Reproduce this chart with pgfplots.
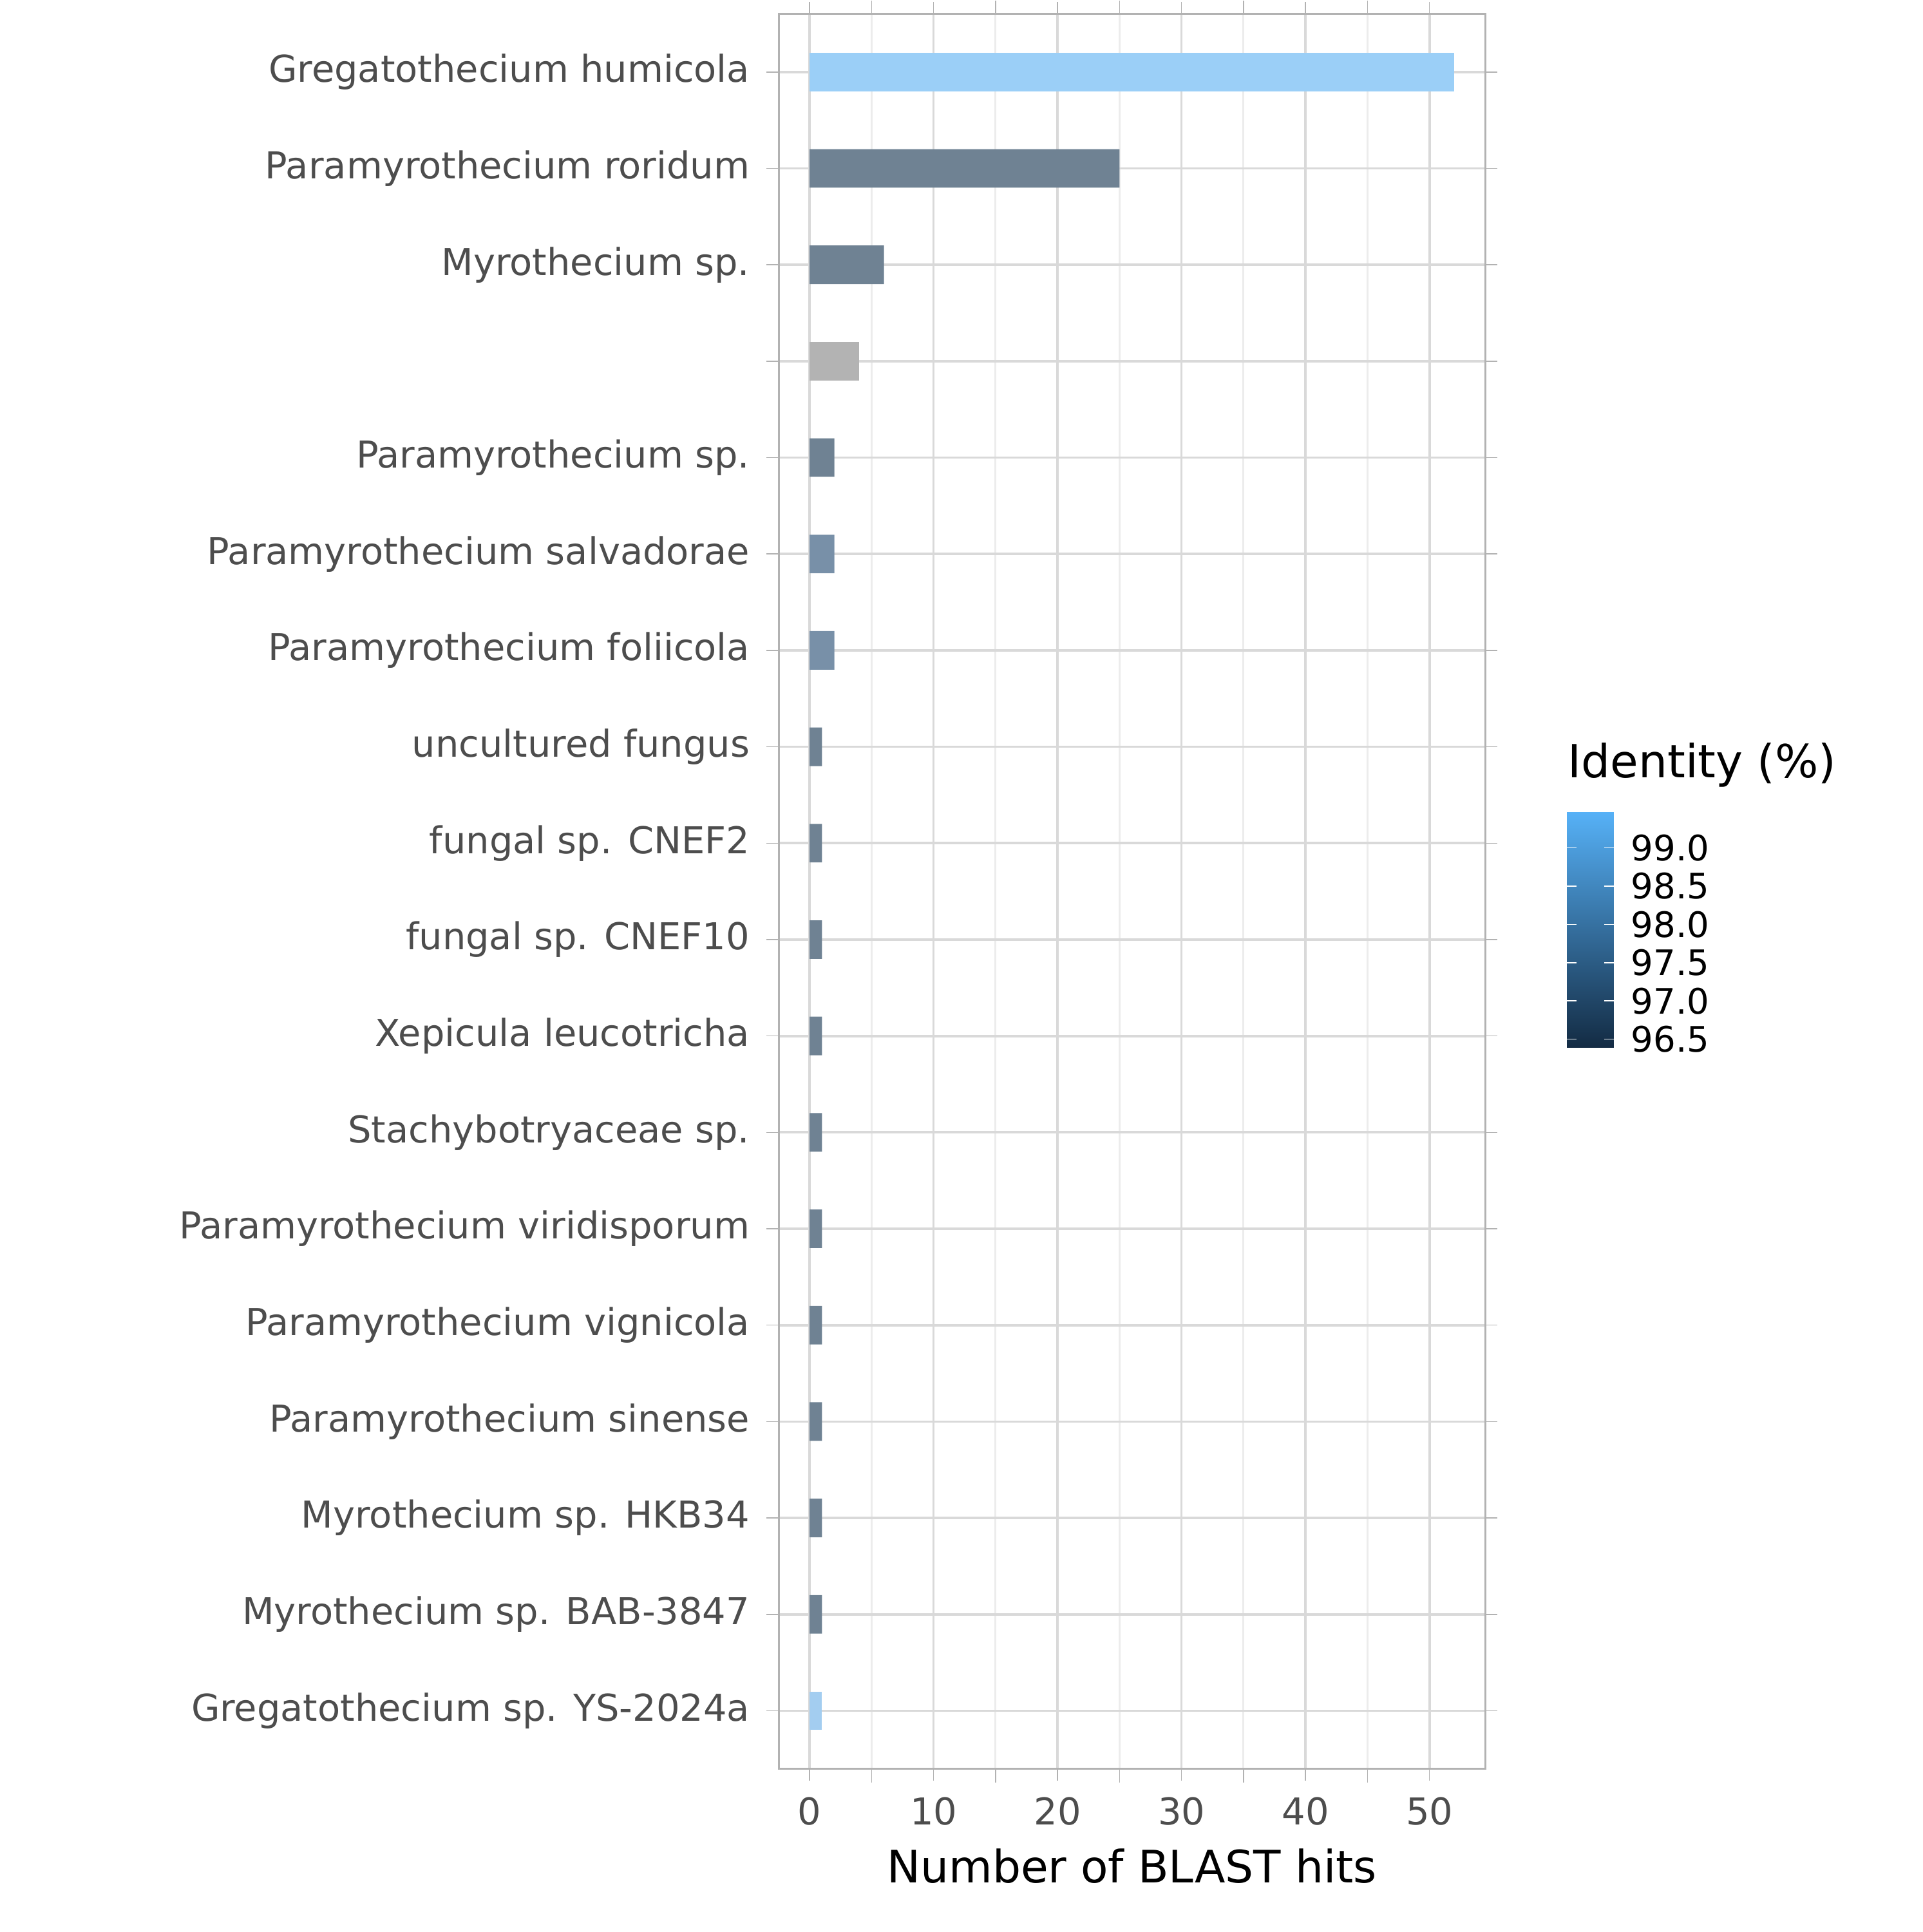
\documentclass[border=0pt]{standalone}
\usepackage{pgfplots}
\pgfplotsset{compat=1.18}
\usepackage{fontspec}
\setmainfont{DejaVu Sans}
\definecolor{lb}{HTML}{9BCFF7}
\definecolor{lb2}{HTML}{A3CDF0}
\definecolor{dk}{HTML}{6F8293}
\definecolor{bl}{HTML}{7890A8}
\definecolor{gr}{HTML}{B3B3B3}
\definecolor{txt}{HTML}{4D4D4D}
\definecolor{cblo}{HTML}{132B43}
\definecolor{cbhi}{HTML}{56B1F7}
\begin{document}
\begin{tikzpicture}
\path (-162pt,-34pt) rectangle (238pt,366pt);
\begin{axis}[at={(0,0)},anchor=south west,width=147pt,height=365pt,scale only axis,
 xmin=-2.49,xmax=54.5,ymin=-0.6,ymax=17.6,y dir=reverse,
 xbar,bar width=0.4,bar shift=0pt,
 ytick={0,...,17},
 yticklabels={Gregatothecium humicola,Paramyrothecium roridum,Myrothecium sp.,,Paramyrothecium sp.,Paramyrothecium salvadorae,Paramyrothecium foliicola,uncultured fungus,fungal sp. CNEF2,fungal sp. CNEF10,Xepicula leucotricha,Stachybotryaceae sp.,Paramyrothecium viridisporum,Paramyrothecium vignicola,Paramyrothecium sinense,Myrothecium sp. HKB34,Myrothecium sp. BAB-3847,Gregatothecium sp. YS-2024a},
 xtick={0,10,...,50},minor xtick={5,15,...,45},
 grid=both,major grid style={gray!30,line width=0.5pt},minor grid style={gray!15,line width=0.4pt},
 axis line style={gray!60},tick style={gray!60},tick align=outside,major tick length=2.5pt,
 ticklabel style={font=\fontsize{7.7}{8}\selectfont,text=txt},
 xlabel={Number of BLAST hits},xlabel style={font=\fontsize{9.3}{10}\selectfont,yshift=2pt},
 /pgf/number format/assume math mode=true]
\addplot[fill=lb,draw=none] coordinates {(52,0)};
\addplot[fill=dk,draw=none] coordinates {(25,1) (6,2) (2,4) (1,7) (1,8) (1,9) (1,10) (1,11) (1,12) (1,13) (1,14) (1,15) (1,16)};
\addplot[fill=gr,draw=none] coordinates {(4,3)};
\addplot[fill=bl,draw=none] coordinates {(2,5) (2,6)};
\addplot[fill=lb2,draw=none] coordinates {(1,17)};
\end{axis}
\node[anchor=south west,font=\fontsize{9.5}{10}\selectfont,inner sep=0] at (164pt,204pt) {Identity (\%)};
\begin{axis}[at={(164pt,150pt)},anchor=south west,width=9.8pt,height=49pt,scale only axis,
 xmin=0,xmax=1,ymin=96.39,ymax=99.47,view={0}{90},
 colormap={gg}{color=(cblo) color=(cbhi)},
 axis line style={draw=none},xtick=\empty,ytick={96.5,97,...,99},
 yticklabel pos=right,tick style={white},major tick length=2pt,tick align=inside,
 yticklabel style={font=\fontsize{7.3}{8}\selectfont,/pgf/number format/.cd,fixed,fixed zerofill,precision=1},
 /pgf/number format/assume math mode=true]
\addplot3[surf,shader=interp,mesh/rows=2] coordinates {(0,96.39,96.39) (1,96.39,96.39)

 (0,99.47,99.47) (1,99.47,99.47)};
\end{axis}
\end{tikzpicture}
\end{document}
